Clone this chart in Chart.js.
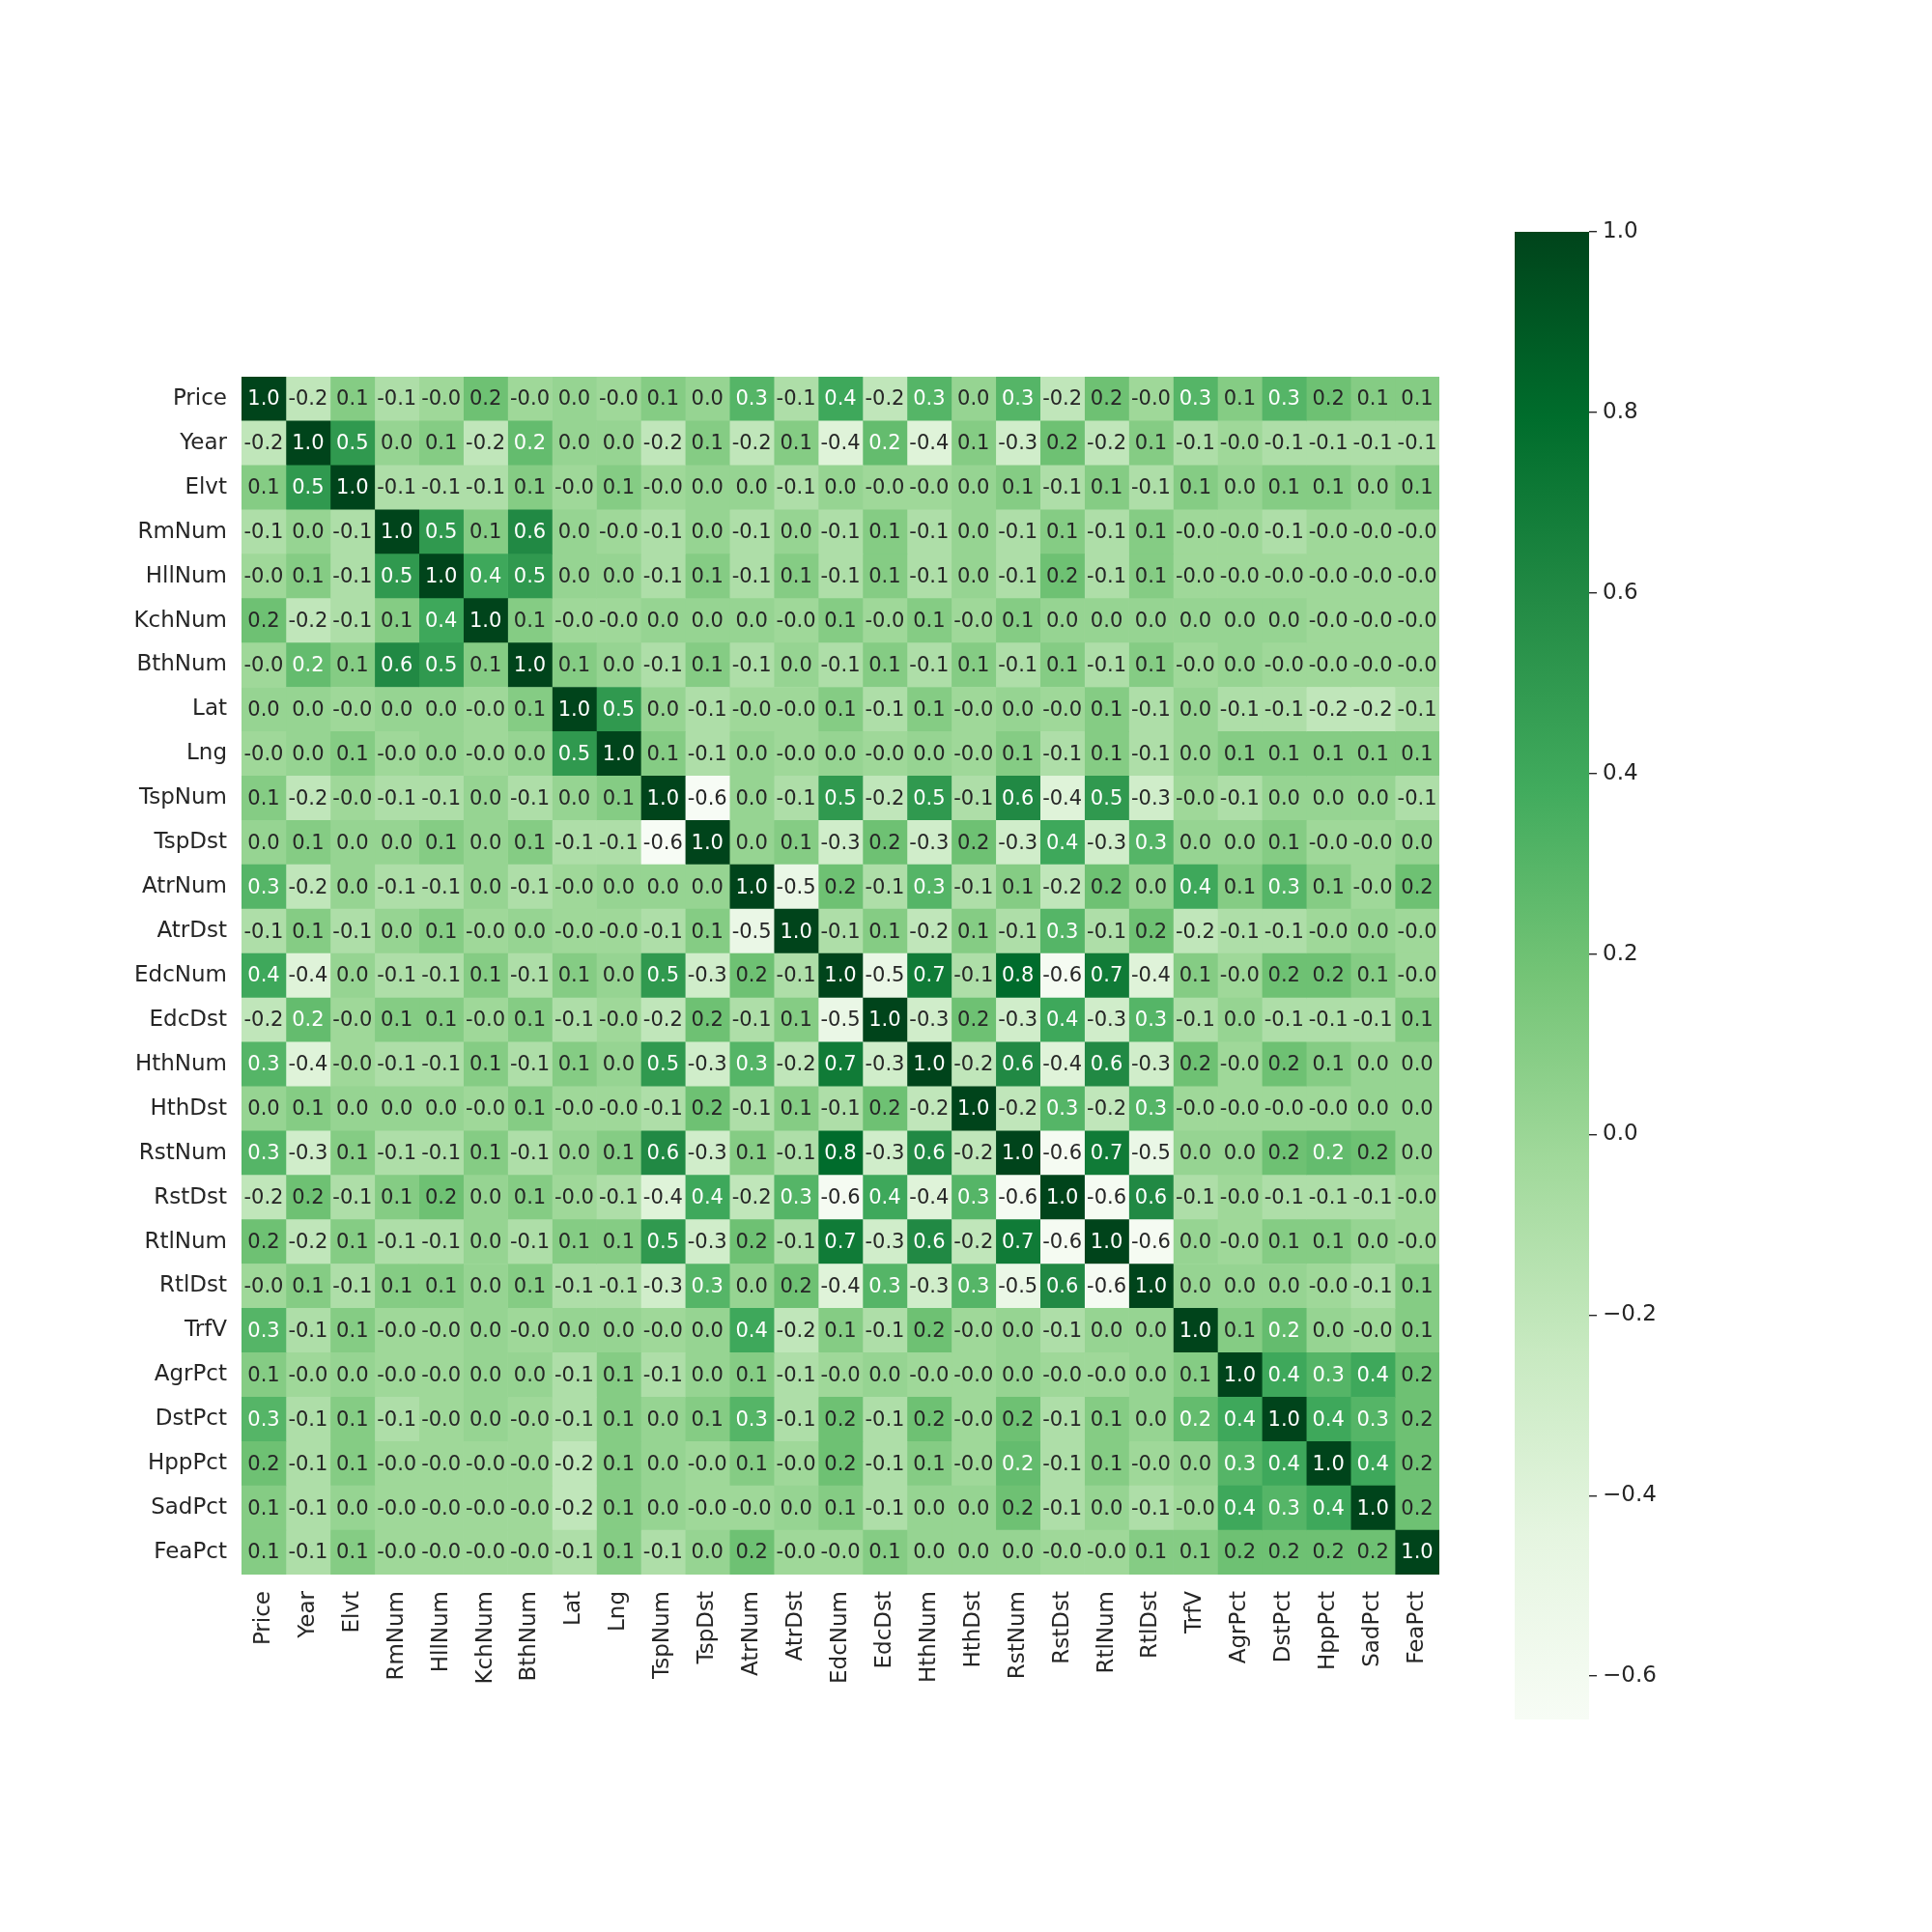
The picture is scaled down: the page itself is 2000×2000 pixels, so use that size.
<!DOCTYPE html>
<html>
<head>
<meta charset="utf-8">
<script src="https://cdn.jsdelivr.net/npm/chart.js@4.4.1/dist/chart.umd.min.js"></script>
<style>
  body { margin: 0; background: #ffffff; }
  #wrap { position: relative; width: 2000px; height: 2000px; }
  #heatmap { position: absolute; left: 0; top: 0; }
  #colorbar { position: absolute; left: 1500px; top: 200px; }
</style>
</head>
<body>
<div id="wrap">
  <canvas id="heatmap" width="2000" height="2000"></canvas>
  <canvas id="colorbar" width="260" height="1620"></canvas>
</div>
<script>
// variable names (rows top to bottom, columns left to right)
const labels = ['Price', 'Year', 'Elvt', 'RmNum', 'HllNum', 'KchNum', 'BthNum', 'Lat', 'Lng',
  'TspNum', 'TspDst', 'AtrNum', 'AtrDst', 'EdcNum', 'EdcDst', 'HthNum', 'HthDst', 'RstNum',
  'RstDst', 'RtlNum', 'RtlDst', 'TrfV', 'AgrPct', 'DstPct', 'HppPct', 'SadPct', 'FeaPct'];

// correlation values ("-0.0" stored as -0.02, "0.0" as 0.02)
const corr = [
  [1.0, -0.2, 0.1, -0.1, -0.02, 0.2, -0.02, 0.02, -0.02, 0.1, 0.02, 0.3, -0.1, 0.4, -0.2, 0.3, 0.02, 0.3, -0.2, 0.2, -0.02, 0.3, 0.1, 0.3, 0.2, 0.1, 0.1],
  [-0.2, 1.0, 0.5, 0.02, 0.1, -0.2, 0.24, 0.02, 0.02, -0.2, 0.1, -0.2, 0.1, -0.4, 0.24, -0.4, 0.1, -0.3, 0.2, -0.2, 0.1, -0.1, -0.02, -0.1, -0.1, -0.1, -0.1],
  [0.1, 0.5, 1.0, -0.1, -0.1, -0.1, 0.1, -0.02, 0.1, -0.02, 0.02, 0.02, -0.1, 0.02, -0.02, -0.02, 0.02, 0.1, -0.1, 0.1, -0.1, 0.1, 0.02, 0.1, 0.1, 0.02, 0.1],
  [-0.1, 0.02, -0.1, 1.0, 0.5, 0.1, 0.6, 0.02, -0.02, -0.1, 0.02, -0.1, 0.02, -0.1, 0.1, -0.1, 0.02, -0.1, 0.1, -0.1, 0.1, -0.02, -0.02, -0.1, -0.02, -0.02, -0.02],
  [-0.02, 0.1, -0.1, 0.5, 1.0, 0.4, 0.5, 0.02, 0.02, -0.1, 0.1, -0.1, 0.1, -0.1, 0.1, -0.1, 0.02, -0.1, 0.2, -0.1, 0.1, -0.02, -0.02, -0.02, -0.02, -0.02, -0.02],
  [0.2, -0.2, -0.1, 0.1, 0.4, 1.0, 0.1, -0.02, -0.02, 0.02, 0.02, 0.02, -0.02, 0.1, -0.02, 0.1, -0.02, 0.1, 0.02, 0.02, 0.02, 0.02, 0.02, 0.02, -0.02, -0.02, -0.02],
  [-0.02, 0.24, 0.1, 0.6, 0.5, 0.1, 1.0, 0.1, 0.02, -0.1, 0.1, -0.1, 0.02, -0.1, 0.1, -0.1, 0.1, -0.1, 0.1, -0.1, 0.1, -0.02, 0.02, -0.02, -0.02, -0.02, -0.02],
  [0.02, 0.02, -0.02, 0.02, 0.02, -0.02, 0.1, 1.0, 0.5, 0.02, -0.1, -0.02, -0.02, 0.1, -0.1, 0.1, -0.02, 0.02, -0.02, 0.1, -0.1, 0.02, -0.1, -0.1, -0.2, -0.2, -0.1],
  [-0.02, 0.02, 0.1, -0.02, 0.02, -0.02, 0.02, 0.5, 1.0, 0.1, -0.1, 0.02, -0.02, 0.02, -0.02, 0.02, -0.02, 0.1, -0.1, 0.1, -0.1, 0.02, 0.1, 0.1, 0.1, 0.1, 0.1],
  [0.1, -0.2, -0.02, -0.1, -0.1, 0.02, -0.1, 0.02, 0.1, 1.0, -0.648, 0.02, -0.1, 0.5, -0.2, 0.5, -0.1, 0.6, -0.4, 0.5, -0.3, -0.02, -0.1, 0.02, 0.02, 0.02, -0.1],
  [0.02, 0.1, 0.02, 0.02, 0.1, 0.02, 0.1, -0.1, -0.1, -0.648, 1.0, 0.02, 0.1, -0.3, 0.2, -0.3, 0.2, -0.3, 0.4, -0.3, 0.3, 0.02, 0.02, 0.1, -0.02, -0.02, 0.02],
  [0.3, -0.2, 0.02, -0.1, -0.1, 0.02, -0.1, -0.02, 0.02, 0.02, 0.02, 1.0, -0.5, 0.2, -0.1, 0.3, -0.1, 0.1, -0.2, 0.2, 0.02, 0.4, 0.1, 0.3, 0.1, -0.02, 0.2],
  [-0.1, 0.1, -0.1, 0.02, 0.1, -0.02, 0.02, -0.02, -0.02, -0.1, 0.1, -0.5, 1.0, -0.1, 0.1, -0.2, 0.1, -0.1, 0.3, -0.1, 0.2, -0.2, -0.1, -0.1, -0.02, 0.02, -0.02],
  [0.4, -0.4, 0.02, -0.1, -0.1, 0.1, -0.1, 0.1, 0.02, 0.5, -0.3, 0.2, -0.1, 1.0, -0.5, 0.7, -0.1, 0.8, -0.62, 0.7, -0.4, 0.1, -0.02, 0.2, 0.2, 0.1, -0.02],
  [-0.2, 0.24, -0.02, 0.1, 0.1, -0.02, 0.1, -0.1, -0.02, -0.2, 0.2, -0.1, 0.1, -0.5, 1.0, -0.3, 0.2, -0.3, 0.4, -0.3, 0.3, -0.1, 0.02, -0.1, -0.1, -0.1, 0.1],
  [0.3, -0.4, -0.02, -0.1, -0.1, 0.1, -0.1, 0.1, 0.02, 0.5, -0.3, 0.3, -0.2, 0.7, -0.3, 1.0, -0.2, 0.6, -0.4, 0.6, -0.3, 0.2, -0.02, 0.2, 0.1, 0.02, 0.02],
  [0.02, 0.1, 0.02, 0.02, 0.02, -0.02, 0.1, -0.02, -0.02, -0.1, 0.2, -0.1, 0.1, -0.1, 0.2, -0.2, 1.0, -0.2, 0.3, -0.2, 0.3, -0.02, -0.02, -0.02, -0.02, 0.02, 0.02],
  [0.3, -0.3, 0.1, -0.1, -0.1, 0.1, -0.1, 0.02, 0.1, 0.6, -0.3, 0.1, -0.1, 0.8, -0.3, 0.6, -0.2, 1.0, -0.62, 0.7, -0.5, 0.02, 0.02, 0.2, 0.24, 0.2, 0.02],
  [-0.2, 0.2, -0.1, 0.1, 0.2, 0.02, 0.1, -0.02, -0.1, -0.4, 0.4, -0.2, 0.3, -0.62, 0.4, -0.4, 0.3, -0.62, 1.0, -0.62, 0.6, -0.1, -0.02, -0.1, -0.1, -0.1, -0.02],
  [0.2, -0.2, 0.1, -0.1, -0.1, 0.02, -0.1, 0.1, 0.1, 0.5, -0.3, 0.2, -0.1, 0.7, -0.3, 0.6, -0.2, 0.7, -0.62, 1.0, -0.62, 0.02, -0.02, 0.1, 0.1, 0.02, -0.02],
  [-0.02, 0.1, -0.1, 0.1, 0.1, 0.02, 0.1, -0.1, -0.1, -0.3, 0.3, 0.02, 0.2, -0.4, 0.3, -0.3, 0.3, -0.5, 0.6, -0.62, 1.0, 0.02, 0.02, 0.02, -0.02, -0.1, 0.1],
  [0.3, -0.1, 0.1, -0.02, -0.02, 0.02, -0.02, 0.02, 0.02, -0.02, 0.02, 0.4, -0.2, 0.1, -0.1, 0.2, -0.02, 0.02, -0.1, 0.02, 0.02, 1.0, 0.1, 0.24, 0.02, -0.02, 0.1],
  [0.1, -0.02, 0.02, -0.02, -0.02, 0.02, 0.02, -0.1, 0.1, -0.1, 0.02, 0.1, -0.1, -0.02, 0.02, -0.02, -0.02, 0.02, -0.02, -0.02, 0.02, 0.1, 1.0, 0.4, 0.3, 0.4, 0.2],
  [0.3, -0.1, 0.1, -0.1, -0.02, 0.02, -0.02, -0.1, 0.1, 0.02, 0.1, 0.3, -0.1, 0.2, -0.1, 0.2, -0.02, 0.2, -0.1, 0.1, 0.02, 0.24, 0.4, 1.0, 0.4, 0.3, 0.2],
  [0.2, -0.1, 0.1, -0.02, -0.02, -0.02, -0.02, -0.2, 0.1, 0.02, -0.02, 0.1, -0.02, 0.2, -0.1, 0.1, -0.02, 0.24, -0.1, 0.1, -0.02, 0.02, 0.3, 0.4, 1.0, 0.4, 0.2],
  [0.1, -0.1, 0.02, -0.02, -0.02, -0.02, -0.02, -0.2, 0.1, 0.02, -0.02, -0.02, 0.02, 0.1, -0.1, 0.02, 0.02, 0.2, -0.1, 0.02, -0.1, -0.02, 0.4, 0.3, 0.4, 1.0, 0.2],
  [0.1, -0.1, 0.1, -0.02, -0.02, -0.02, -0.02, -0.1, 0.1, -0.1, 0.02, 0.2, -0.02, -0.02, 0.1, 0.02, 0.02, 0.02, -0.02, -0.02, 0.1, 0.1, 0.2, 0.2, 0.2, 0.2, 1.0]
];

// colorbar tick labels
const cbTicks = [-0.6, -0.4, -0.2, 0.0, 0.2, 0.4, 0.6, 0.8, 1.0];

// matplotlib "Greens"
const greensStops = ['#f7fcf5', '#e5f5e0', '#c7e9c0', '#a1d99b', '#74c476', '#41ab5d', '#238b45', '#006d2c', '#00441b'];

const fontFamily = '"DejaVu Sans", sans-serif';
const textDark = '#262626';

const vmin = Math.min(...corr.flat());
const vmax = Math.max(...corr.flat());

function hexToRgb(h) {
  return [parseInt(h.slice(1, 3), 16), parseInt(h.slice(3, 5), 16), parseInt(h.slice(5, 7), 16)];
}
const stopsRgb = greensStops.map(hexToRgb);

function greens(v) {
  let t = (v - vmin) / (vmax - vmin);
  t = Math.max(0, Math.min(1, t)) * (stopsRgb.length - 1);
  const i = Math.min(Math.floor(t), stopsRgb.length - 2);
  const f = t - i;
  return stopsRgb[i].map((c, k) => Math.round(c + (stopsRgb[i + 1][k] - c) * f));
}

function rgbStr(c) {
  return 'rgb(' + c.join(',') + ')';
}

// same rule seaborn uses to pick the annotation colour
function luminance(c) {
  const lin = c.map(x => {
    x = x / 255;
    return x <= 0.03928 ? x / 12.92 : Math.pow((x + 0.055) / 1.055, 2.4);
  });
  return 0.2126 * lin[0] + 0.7152 * lin[1] + 0.0722 * lin[2];
}

// write the values inside the cells
const cellText = {
  id: 'cellText',
  afterDatasetsDraw(chart) {
    const { ctx, scales: { x, y } } = chart;
    ctx.save();
    ctx.font = '21px ' + fontFamily;
    ctx.textAlign = 'center';
    ctx.textBaseline = 'middle';
    corr.forEach((row, r) => {
      row.forEach((v, c) => {
        ctx.fillStyle = luminance(greens(v)) > 0.408 ? textDark : '#ffffff';
        ctx.fillText(v.toFixed(1), x.getPixelForValue(c + 0.5), y.getPixelForValue(r) + 1);
      });
    });
    ctx.restore();
  }
};

// one stacked dataset per column, one bar segment per row
const datasets = labels.map((col, c) => ({
  label: col,
  data: labels.map(() => 1),
  backgroundColor: labels.map((_, r) => rgbStr(greens(corr[r][c]))),
  borderWidth: 0,
  barPercentage: 1,
  categoryPercentage: 1
}));

new Chart(document.getElementById('heatmap').getContext('2d'), {
  type: 'bar',
  data: { labels: labels, datasets: datasets },
  options: {
    indexAxis: 'y',
    responsive: false,
    animation: false,
    devicePixelRatio: 1,
    layout: { padding: { top: 390, right: 510, bottom: 0, left: 0 } },
    plugins: { legend: { display: false }, tooltip: { enabled: false } },
    scales: {
      x: {
        type: 'linear',
        stacked: true,
        min: 0,
        max: labels.length,
        position: 'bottom',
        grid: { display: false, drawTicks: false },
        border: { display: false },
        afterBuildTicks: s => { s.ticks = labels.map((_, i) => ({ value: i + 0.5 })); },
        afterFit: s => { s.height = 370; },
        ticks: {
          autoSkip: false,
          minRotation: 90,
          maxRotation: 90,
          padding: 17,
          color: textDark,
          font: { family: fontFamily, size: 23 },
          callback: (v, i) => labels[i]
        }
      },
      y: {
        stacked: true,
        grid: { display: false, drawTicks: false },
        border: { display: false },
        afterFit: s => { s.width = 250; },
        ticks: {
          autoSkip: false,
          padding: 15,
          color: textDark,
          font: { family: fontFamily, size: 23 }
        }
      }
    }
  },
  plugins: [cellText]
});

// colour bar
new Chart(document.getElementById('colorbar').getContext('2d'), {
  type: 'bar',
  data: {
    labels: [''],
    datasets: [{
      data: [[vmin, vmax]],
      backgroundColor: context => {
        const area = context.chart.chartArea;
        if (!area) return greensStops[4];
        const g = context.chart.ctx.createLinearGradient(0, area.bottom, 0, area.top);
        greensStops.forEach((c, i) => g.addColorStop(i / (greensStops.length - 1), c));
        return g;
      },
      borderWidth: 0,
      barPercentage: 1,
      categoryPercentage: 1
    }]
  },
  options: {
    responsive: false,
    animation: false,
    devicePixelRatio: 1,
    layout: { padding: { top: 40, bottom: 40, left: 68, right: 0 } },
    plugins: { legend: { display: false }, tooltip: { enabled: false } },
    scales: {
      x: { display: false },
      y: {
        position: 'right',
        min: vmin,
        max: vmax,
        afterBuildTicks: s => { s.ticks = cbTicks.map(v => ({ value: v })); },
        afterFit: s => { s.width = 115; },
        grid: { drawOnChartArea: false, drawTicks: true, tickLength: 8, color: textDark, lineWidth: 1.4 },
        border: { display: false },
        ticks: {
          padding: 6,
          color: textDark,
          font: { family: fontFamily, size: 23 },
          callback: v => v.toFixed(1).replace('-', '\u2212')
        }
      }
    }
  }
});
</script>
</body>
</html>
